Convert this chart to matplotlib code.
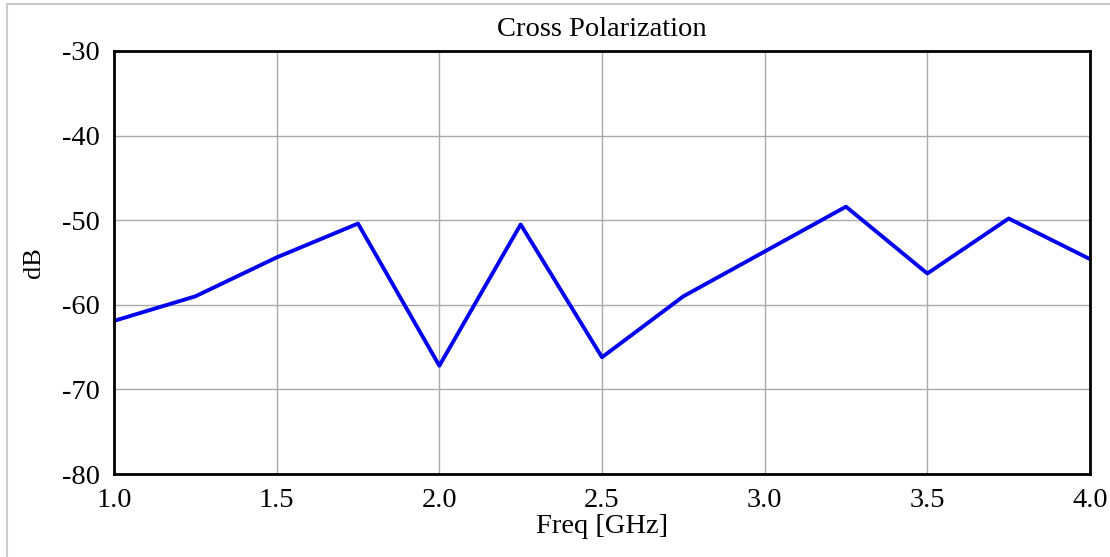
import matplotlib
matplotlib.use('Agg')
import matplotlib.pyplot as plt
from matplotlib.patches import Rectangle

# data
freq = [1.0, 1.25, 1.5, 1.75, 2.0, 2.25, 2.5, 2.75, 3.0, 3.25, 3.5, 3.75, 4.0]
xpol = [-61.9, -59.0, -54.4, -50.4, -67.2, -50.5, -66.2, -59.0, -53.7, -48.4, -56.3, -49.8, -54.6]
xticks = [1.0, 1.5, 2.0, 2.5, 3.0, 3.5, 4.0]
yticks = [-80, -70, -60, -50, -40, -30]

plt.rcParams['font.family'] = ['Liberation Serif', 'DejaVu Serif']
plt.rcParams['axes.unicode_minus'] = False

fig = plt.figure(figsize=(11.1, 5.57), dpi=100)
# light gray outer frame
fig.patches.append(Rectangle((7/1110, -0.1), 1.2, 1 - 4/557 + 0.1, transform=fig.transFigure,
                             fill=False, edgecolor='#cccccc', linewidth=1.5))
ax = fig.add_axes([114/1110, 1 - 474/557, (1090 - 114)/1110, (474 - 51)/557])

ax.plot(freq, xpol, color='#0000ee', linewidth=2.8)
ax.set_xlim(1.0, 4.0)
ax.set_ylim(-80, -30)
ax.set_xticks(xticks)
ax.set_xticklabels(['%.1f' % t for t in xticks])
ax.set_yticks(yticks)
ax.grid(True, color='#aaaaaa', linewidth=1.0)
ax.tick_params(length=0, labelsize=20.5)
ax.tick_params(axis='x', pad=10)
ax.tick_params(axis='y', pad=10)
for s in ax.spines.values():
    s.set_linewidth(2)
    s.set_color('black')

ax.set_title('Cross Polarization', fontsize=20.5, pad=11)
ax.set_xlabel('Freq [GHz]', fontsize=20.5, labelpad=1)
ax.set_ylabel('dB', fontsize=19, labelpad=12)

fig.savefig('out.png', dpi=100)
